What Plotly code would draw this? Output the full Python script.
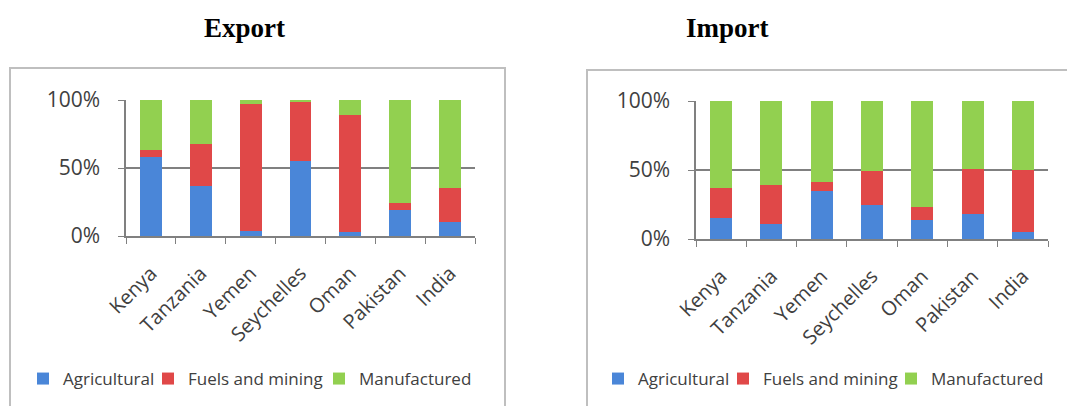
import plotly.graph_objects as go

countries = ["Kenya", "Tanzania", "Yemen", "Seychelles", "Oman", "Pakistan", "India"]

export_agri = [58, 37, 4, 55, 3, 19, 10]
export_fuel = [5, 31, 93, 44, 86, 5, 25]
export_manu = [37, 32, 3, 1, 11, 76, 65]

import_agri = [15, 11, 35, 25, 14, 18, 5]
import_fuel = [22, 28, 6, 24, 9, 33, 45]
import_manu = [63, 61, 59, 51, 77, 49, 50]

series_names = ["Agricultural", "Fuels and mining", "Manufactured"]
colors = ["#4A86D8", "#E04848", "#92D050"]

W, H = 1067, 406
FONT = "Open Sans"
TXT = "#404040"

# legend symbol centres (pixels) for each chart's three entries
export_legend_x = [42, 167, 338]
import_legend_x = [617, 742, 910]
LEGEND_Y = 379

fig = go.Figure()

export_sets = [export_agri, export_fuel, export_manu]
import_sets = [import_agri, import_fuel, import_manu]

for i, (name, col, vals) in enumerate(zip(series_names, colors, export_sets)):
    lid = "legend" if i == 0 else f"legend{i + 1}"
    fig.add_trace(go.Bar(x=countries, y=vals, name=name, marker=dict(color=col, line=dict(width=0)),
                         xaxis="x", yaxis="y", legend=lid, showlegend=True))
for i, (name, col, vals) in enumerate(zip(series_names, colors, import_sets)):
    lid = f"legend{i + 4}"
    fig.add_trace(go.Bar(x=countries, y=vals, name=name, marker=dict(color=col, line=dict(width=0)),
                         xaxis="x2", yaxis="y2", legend=lid, showlegend=True))

def px(x):
    return x / W

def py(y):
    return 1 - y / H

xcommon = dict(type="category", showline=True, linecolor="#808080", linewidth=1.5,
               ticks="outside", tickson="boundaries", ticklen=6, tickcolor="#808080",
               tickangle=-45, tickfont=dict(family=FONT, size=20, color=TXT),
               ticklabelstandoff=16,
               showgrid=False, fixedrange=True, automargin=False)
ycommon = dict(range=[0, 100], tickvals=[0, 50, 100], ticktext=["0%", "50%", "100%"],
               showline=True, linecolor="#808080", linewidth=1.5, ticks="outside", ticklen=6,
               tickcolor="#808080", showgrid=True, gridcolor="#808080", gridwidth=1.5,
               ticklabelstandoff=14, automargin=False,
               tickfont=dict(family=FONT, size=21, color=TXT), zeroline=False, fixedrange=True)

legend_common = dict(orientation="h", xanchor="left", yanchor="middle",
                     font=dict(family=FONT, size=17, color=TXT), itemwidth=30,
                     bgcolor="rgba(0,0,0,0)", borderwidth=0, visible=True)

SYM_OFFSET = 19  # symbol centre relative to legend's left edge
legends = {}
for i, cx in enumerate(export_legend_x + import_legend_x):
    key = "legend" if i == 0 else f"legend{i + 1}"
    legends[key] = dict(x=px(cx - SYM_OFFSET), y=py(LEGEND_Y), **legend_common)

fig.update_layout(
    width=W, height=H,
    margin=dict(l=0, r=0, t=0, b=0, pad=0, autoexpand=False),
    paper_bgcolor="white", plot_bgcolor="white",
    showlegend=True,
    barmode="stack", bargap=0.56,
    xaxis=dict(domain=[px(126), px(475)], anchor="y", **xcommon),
    yaxis=dict(domain=[py(236), py(100)], anchor="x", **ycommon),
    xaxis2=dict(domain=[px(696), px(1048)], anchor="y2", **xcommon),
    yaxis2=dict(domain=[py(239), py(101)], anchor="x2", **ycommon),
    shapes=[
        dict(type="rect", xref="paper", yref="paper", x0=px(10), x1=px(505), y0=py(430), y1=py(68),
             line=dict(color="#BFBFBF", width=2), fillcolor="rgba(0,0,0,0)", layer="below"),
        dict(type="rect", xref="paper", yref="paper", x0=px(587), x1=px(1080), y0=py(430), y1=py(70),
             line=dict(color="#BFBFBF", width=2), fillcolor="rgba(0,0,0,0)", layer="below"),
    ],
    annotations=[
        dict(text="<b>Export</b>", x=px(245), y=py(28), xref="paper", yref="paper",
             showarrow=False, xanchor="center", yanchor="middle",
             font=dict(family="Liberation Serif", size=27, color="black")),
        dict(text="<b>Import</b>", x=px(727), y=py(28), xref="paper", yref="paper",
             showarrow=False, xanchor="center", yanchor="middle",
             font=dict(family="Liberation Serif", size=27, color="black")),
    ],
    **legends,
)

fig.write_html("out.html",
               post_script="document.body.style.margin='0';document.body.style.overflow='hidden';")
